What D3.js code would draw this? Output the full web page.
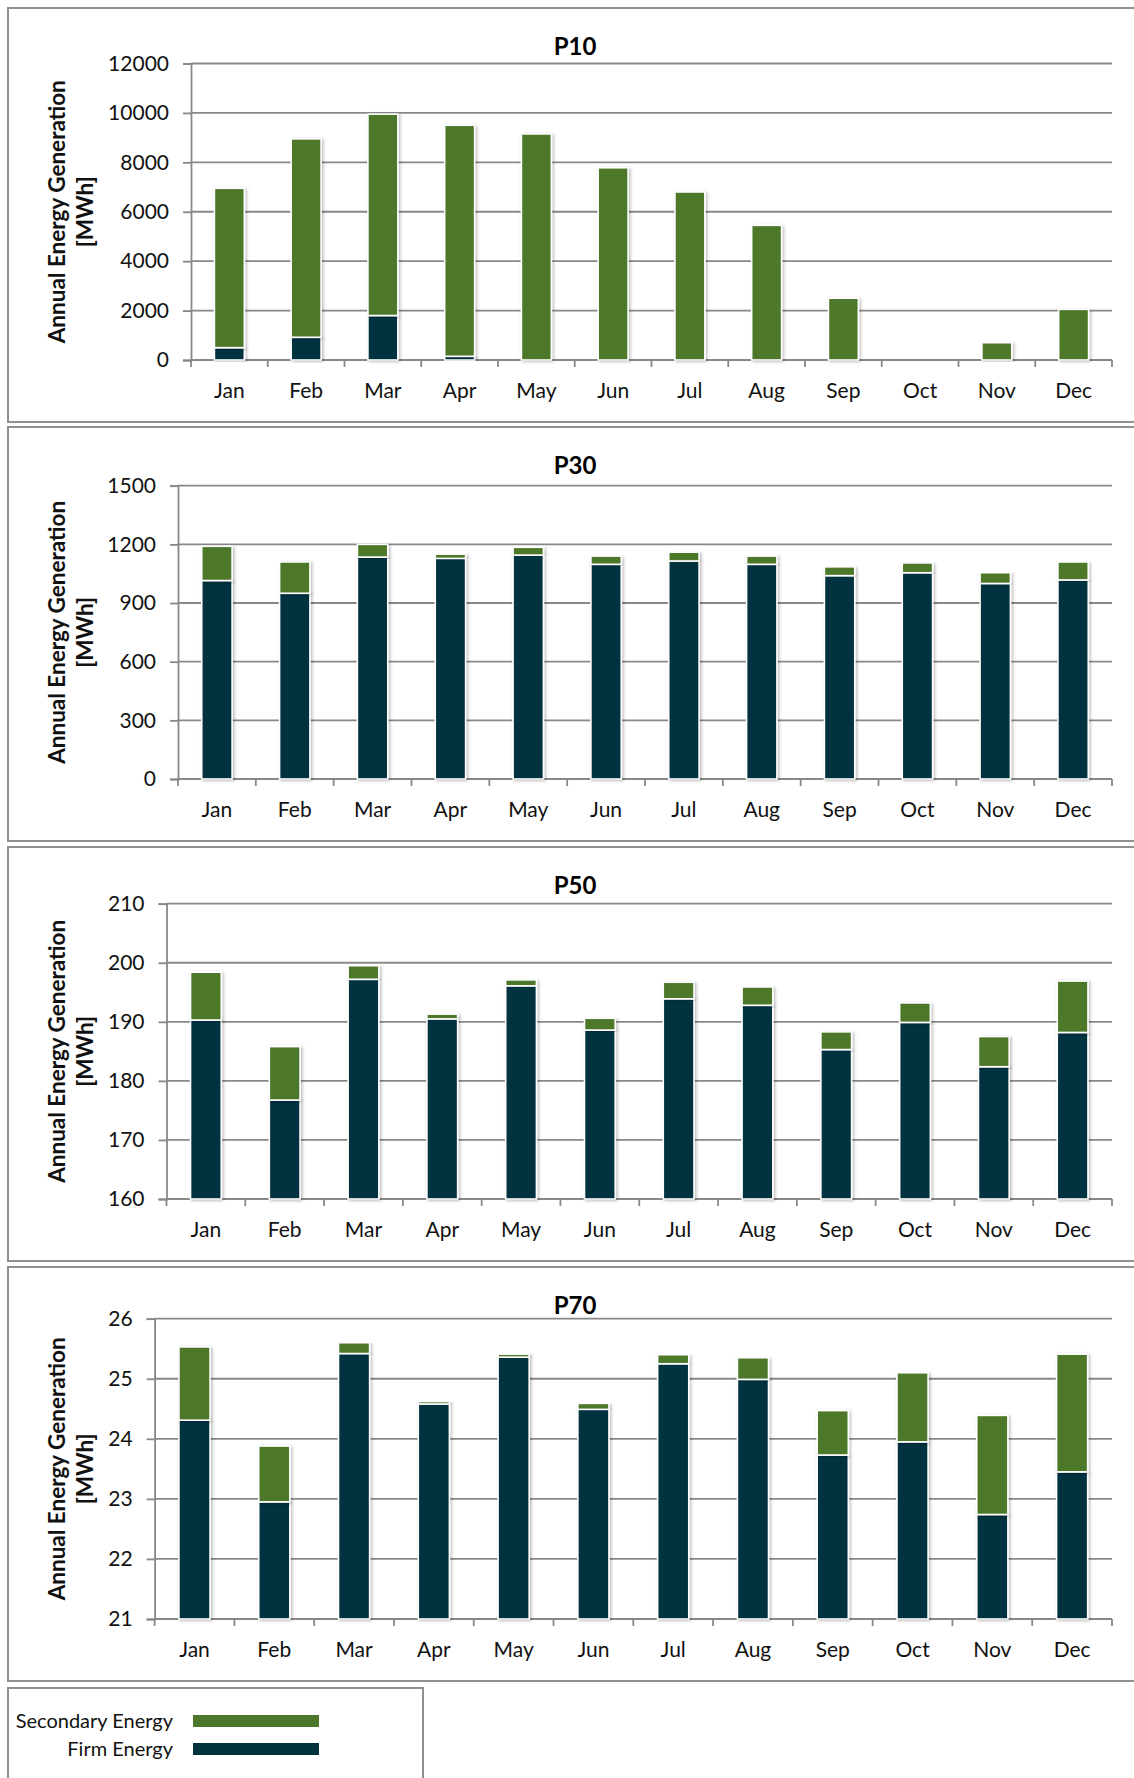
<!DOCTYPE html>
<html>
<head>
<meta charset="utf-8">
<script src="https://cdn.jsdelivr.net/npm/d3@7"></script>
<style>
  html, body { margin: 0; padding: 0; background: #fff; }
  svg { display: block; font-family: Lato, "Open Sans", sans-serif; }
</style>
</head>
<body>
<svg id="chart" width="1134" height="1778"></svg>
<script>
// ---------- DATA ----------
const months = ["Jan","Feb","Mar","Apr","May","Jun","Jul","Aug","Sep","Oct","Nov","Dec"];
const panelTitles = ["P10","P30","P50","P70"];
const seriesNames = ["Secondary Energy","Firm Energy"];

const p10Firm      = [500, 920, 1800, 150, 0, 0, 0, 0, 0, 0, 0, 0];
const p10Secondary = [6450, 8030, 8150, 9350, 9150, 7780, 6800, 5450, 2500, 0, 700, 2050];

const p30Firm      = [1015, 950, 1135, 1128, 1145, 1098, 1115, 1098, 1040, 1055, 1000, 1018];
const p30Secondary = [175, 160, 65, 22, 40, 42, 45, 42, 45, 50, 55, 92];

const p50Firm      = [190.3, 176.75, 197.2, 190.5, 196.1, 188.6, 193.9, 192.8, 185.3, 189.9, 182.4, 188.2];
const p50Secondary = [8.1, 9.05, 2.3, 0.8, 1.0, 2.0, 2.8, 3.1, 3.0, 3.3, 5.1, 8.7];

const p70Firm      = [24.31, 22.95, 25.42, 24.58, 25.36, 24.49, 25.25, 24.99, 23.73, 23.95, 22.74, 23.45];
const p70Secondary = [1.22, 0.93, 0.18, 0.04, 0.05, 0.10, 0.15, 0.36, 0.74, 1.15, 1.65, 1.96];

const p10Ticks = [0, 2000, 4000, 6000, 8000, 10000, 12000];
const p30Ticks = [0, 300, 600, 900, 1200, 1500];
const p50Ticks = [160, 170, 180, 190, 200, 210];
const p70Ticks = [21, 22, 23, 24, 25, 26];

const yTitleLines = ["Annual Energy Generation", "[MWh]"];

// ---------- LAYOUT / STYLE ----------
const colors = { secondary: "#4d782b", firm: "#03323f", grid: "#888888", border: "#909090" };
const panelTops = [8, 427, 847, 1267];
const panelH = 414;
const plotLeft = [191, 178, 166.5, 154.6];
const plotTopOff = [55.5, 58.7, 56.7, 51.7];
const plotBottomOff = 352;
const plotRight = 1112;

const panels = [
  { title: panelTitles[0], firm: p10Firm, secondary: p10Secondary, ticks: p10Ticks },
  { title: panelTitles[1], firm: p30Firm, secondary: p30Secondary, ticks: p30Ticks },
  { title: panelTitles[2], firm: p50Firm, secondary: p50Secondary, ticks: p50Ticks },
  { title: panelTitles[3], firm: p70Firm, secondary: p70Secondary, ticks: p70Ticks }
];

const svg = d3.select("#chart");
const defs = svg.append("defs");
const f = defs.append("filter").attr("id","shadow").attr("x","-20%").attr("y","-5%").attr("width","150%").attr("height","115%");
f.append("feDropShadow").attr("dx",1.5).attr("dy",1).attr("stdDeviation",1.5).attr("flood-color","#000").attr("flood-opacity",0.28);

panels.forEach((p, i) => {
  const top = panelTops[i];
  const g = svg.append("g");
  // panel border
  g.append("rect").attr("x", 8).attr("y", top).attr("width", 1140).attr("height", panelH)
    .attr("fill", "#fff").attr("stroke", colors.border).attr("stroke-width", 2);

  const x0 = plotLeft[i], y0 = top + plotTopOff[i], y1 = top + plotBottomOff;
  const x = d3.scaleBand().domain(months).range([x0, plotRight]).padding(0);
  const y = d3.scaleLinear().domain(d3.extent(p.ticks)).range([y1, y0]);

  // gridlines
  g.append("g").selectAll("line").data(p.ticks).join("line")
    .attr("x1", x0).attr("x2", plotRight).attr("y1", d => y(d)).attr("y2", d => y(d))
    .attr("stroke", colors.grid).attr("stroke-width", 1.8);

  // y axis
  const ya = g.append("g").attr("transform", `translate(${x0},0)`)
    .call(d3.axisLeft(y).tickValues(p.ticks).tickSize(8).tickPadding(14).tickFormat(d3.format("d")));
  ya.select(".domain").attr("stroke", colors.grid).attr("stroke-width", 1.8);
  ya.selectAll(".tick line").attr("stroke", colors.grid).attr("stroke-width", 1.8);
  ya.selectAll(".tick text").attr("font-size", 21).attr("fill", "#111").attr("font-family", "Lato, sans-serif");

  // x axis
  const xa = g.append("g").attr("transform", `translate(0,${y1})`)
    .call(d3.axisBottom(x).tickSize(0).tickPadding(23));
  xa.select(".domain").remove();
  xa.selectAll(".tick text").attr("font-size", 21).attr("fill", "#111").attr("font-family", "Lato, sans-serif");
  g.append("line").attr("x1", x0).attr("x2", plotRight).attr("y1", y1).attr("y2", y1)
    .attr("stroke", colors.grid).attr("stroke-width", 1.8);
  const bounds = months.map(m => x(m)).concat([plotRight]);
  g.append("g").selectAll("line").data(bounds).join("line")
    .attr("x1", d => d).attr("x2", d => d).attr("y1", y1).attr("y2", y1 + 7)
    .attr("stroke", colors.grid).attr("stroke-width", 1.8);

  // bars
  const bw = x.bandwidth() * 0.39;
  const stackData = months.map((m, k) => ({ month: m, firm: p.firm[k], secondary: p.secondary[k] }));
  const stack = d3.stack().keys(["firm", "secondary"]).value((d, key) => d[key]);
  const base = y.domain()[0];
  const layers = stack(stackData);
  const barsG = g.append("g");
  layers.forEach(layer => {
    barsG.append("g").selectAll("rect").data(layer.filter(d => d[1] - d[0] > 0)).join("rect")
      .attr("x", d => x(d.data.month) + (x.bandwidth() - bw) / 2)
      .attr("width", bw)
      .attr("y", d => y(Math.max(d[1], base)))
      .attr("height", d => Math.max(0, y(Math.max(d[0], base)) - y(Math.max(d[1], base))))
      .attr("fill", layer.key === "firm" ? colors.firm : colors.secondary)
      .attr("stroke", "#fff").attr("stroke-width", 1.6)
      .attr("filter", "url(#shadow)");
  });

  // title
  g.append("text").attr("x", 575).attr("y", top + 47).attr("text-anchor", "middle")
    .attr("font-size", 24).attr("font-weight", "bold").attr("fill", "#000").text(p.title);

  // y title
  const cy = (y0 + y1) / 2;
  const yt = g.append("text").attr("transform", `translate(65,${cy}) rotate(-90)`)
    .attr("text-anchor", "middle").attr("font-size", 22.5).attr("font-weight", "bold").attr("fill", "#111");
  yt.append("tspan").attr("x", 0).attr("dy", 0).text(yTitleLines[0]);
  yt.append("tspan").attr("x", 0).attr("dy", 28).text(yTitleLines[1]);
});

// legend
const lg = svg.append("g");
lg.append("rect").attr("x", 8).attr("y", 1688).attr("width", 415).attr("height", 110)
  .attr("fill", "#fff").attr("stroke", colors.border).attr("stroke-width", 2);
const legendItems = [
  { name: seriesNames[0], color: colors.secondary },
  { name: seriesNames[1], color: colors.firm }
];
const ly = d3.scalePoint().domain(legendItems.map(d => d.name)).range([1721, 1749]);
legendItems.forEach(it => {
  lg.append("text").attr("x", 173).attr("y", ly(it.name)).attr("dy", "0.35em").attr("text-anchor", "end")
    .attr("font-size", 20).attr("fill", "#111").text(it.name);
  lg.append("rect").attr("x", 193).attr("y", ly(it.name) - 6).attr("width", 126).attr("height", 12)
    .attr("fill", it.color);
});
</script>
</body>
</html>
